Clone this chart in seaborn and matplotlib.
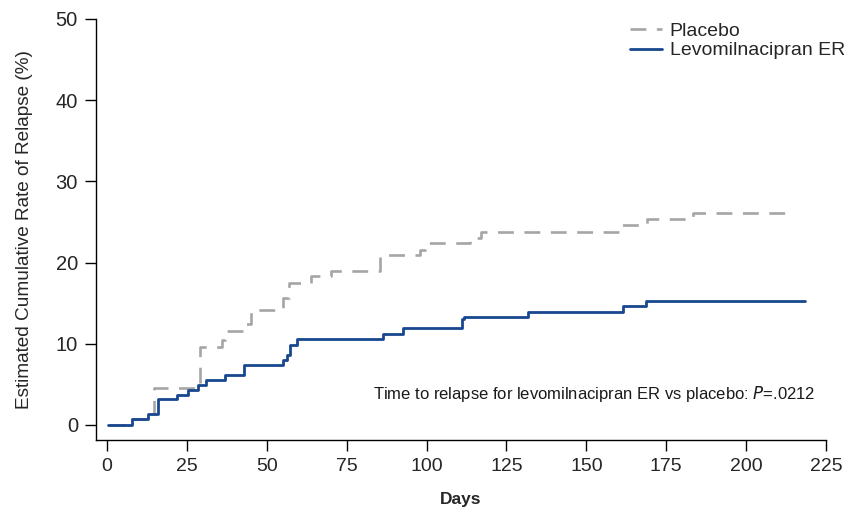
import matplotlib
matplotlib.use("Agg")
import matplotlib.pyplot as plt
import pandas as pd
import seaborn as sns

# Kaplan-Meier style step values (days, cumulative %)
placebo_days = [1, 7.8, 12.8, 14.7, 29, 36, 37, 43, 45, 55, 57, 64, 70, 85.5, 98, 99.5, 113.7, 117, 160.5, 169, 183.5, 212.5]
placebo_rate = [0, 0.7, 1.3, 4.5, 9.6, 10.4, 11.6, 12.4, 14.1, 15.6, 17.5, 18.3, 18.9, 20.9, 21.6, 22.4, 23.0, 23.8, 24.6, 25.3, 26.1, 26.1]

levo_days = [0.5, 7.8, 12.8, 15.9, 22, 25.4, 28.4, 31, 37, 43, 55, 56.5, 57.3, 59.4, 86.5, 92.5, 111, 111.7, 131.8, 161.5, 168.7, 218.5]
levo_rate = [0, 0.7, 1.3, 3.2, 3.7, 4.3, 4.9, 5.5, 6.1, 7.4, 8.0, 8.6, 9.8, 10.6, 11.2, 11.9, 13.0, 13.3, 13.9, 14.6, 15.3, 15.3]

x_ticks = [0, 25, 50, 75, 100, 125, 150, 175, 200, 225]
y_ticks = [0, 10, 20, 30, 40, 50]

placebo_color = "#a5a5a5"
levo_color = "#17478f"

sns.set_style("ticks")
plt.rcParams["font.family"] = ["Liberation Sans", "DejaVu Sans"]

df_placebo = pd.DataFrame({"day": placebo_days, "rate": placebo_rate})
df_levo = pd.DataFrame({"day": levo_days, "rate": levo_rate})

fig = plt.figure(figsize=(8.6, 5.11), dpi=100)
ax = fig.add_axes([0.1116, 0.139, 0.849, 0.824])

sns.lineplot(data=df_placebo, x="day", y="rate", ax=ax, estimator=None,
             drawstyle="steps-post", color=placebo_color, linewidth=1.9,
             dashes=False, label="Placebo")
ax.lines[-1].set_dashes([6, 4])
sns.lineplot(data=df_levo, x="day", y="rate", ax=ax, estimator=None,
             drawstyle="steps-post", color=levo_color, linewidth=2.0,
             label="Levomilnacipran ER")

ax.set_xlim(-3.4, 225)
ax.set_ylim(-1.85, 50)
ax.set_xticks(x_ticks)
ax.set_yticks(y_ticks)
ax.tick_params(axis="both", direction="out", length=8, width=1, color="black", pad=5)
ax.tick_params(axis="y", labelsize=14.5)
for lab in ax.get_xticklabels():
    lab.set_fontfamily(["Liberation Sans Narrow", "Liberation Sans"])
    lab.set_fontsize(14)

ax.set_xlabel("Days", fontsize=12.5, fontweight="bold", labelpad=12)
ax.set_ylabel("Estimated Cumulative Rate of Relapse (%)", fontsize=13.7, labelpad=16)

for side in ["left", "bottom"]:
    ax.spines[side].set_color("black")
    ax.spines[side].set_linewidth(1)
sns.despine(ax=ax)

ax.text(0.985, 0.109, "Time to relapse for levomilnacipran ER vs placebo: $\\it{P}$=.0212",
        transform=ax.transAxes, ha="right", va="center", fontsize=12, color="#1a1a1a")

leg = ax.legend(loc="upper right", bbox_to_anchor=(1.026, 0.992), frameon=False,
                fontsize=14, handlelength=1.65, handletextpad=0.4, labelspacing=0.1,
                borderpad=0, borderaxespad=0)

fig.savefig("out.png", dpi=100)
